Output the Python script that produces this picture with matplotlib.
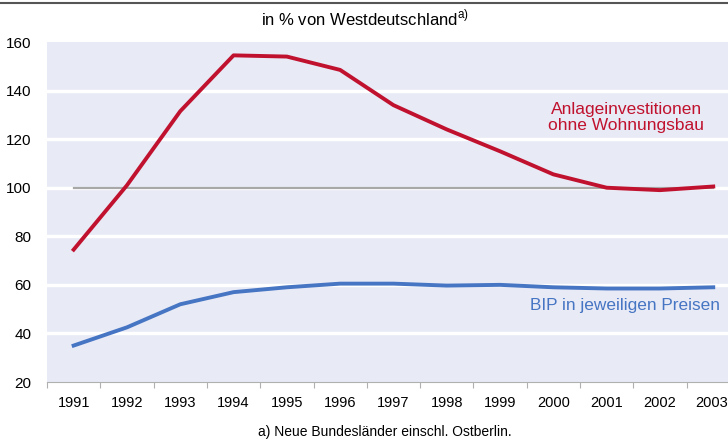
import numpy as np
import matplotlib
matplotlib.use("Agg")
import matplotlib.pyplot as plt
import matplotlib.transforms as mtransforms

plt.rcParams['font.family'] = ['Liberation Sans', 'DejaVu Sans']

years = ['1991', '1992', '1993', '1994', '1995', '1996', '1997',
         '1998', '1999', '2000', '2001', '2002', '2003']
invest = [74.5, 101, 131.5, 154.5, 154, 148.5, 134, 124, 115, 105.5, 100, 99, 100.5]
bip = [35, 42.5, 52, 57, 59, 60.5, 60.5, 59.7, 60, 59, 58.5, 58.5, 59]
ref_line = [100] * len(years)

red = '#C0122E'
blue = '#4675C3'
bg = '#E8EAF6'

W, H = 728, 441
fig = plt.figure(figsize=(W / 100, H / 100), dpi=100)
fig.patch.set_facecolor('white')

# plot area: left edge 47px, 13 categories of ~53.3px, top 42px, bottom 382px
left, top, bottom = 47, 42, 382
width = 13 * 53.3
ax = fig.add_axes([left / W, 1 - bottom / H, width / W, (bottom - top) / H])
ax.set_facecolor(bg)

x = np.arange(len(years))
ax.set_xlim(-0.5, len(years) - 0.5)
ax.set_ylim(20, 160)

for yv in range(40, 160, 20):
    ax.axhline(yv, color='white', lw=2.4, zorder=1)

ax.plot(x, ref_line, color='#A8A8A8', lw=1.6, zorder=2)
ax.plot(x, invest, color=red, lw=2.8, zorder=3, solid_joinstyle='round')
ax.plot(x, bip, color=blue, lw=2.8, zorder=3, solid_joinstyle='round')

for s in ['top', 'right', 'left']:
    ax.spines[s].set_visible(False)
ax.spines['bottom'].set_color('#B0B0B0')
ax.spines['bottom'].set_linewidth(0.8)

ax.set_yticks(range(20, 161, 20))
ax.tick_params(axis='y', length=0, pad=11, labelsize=11)
ax.set_xticks(x)
ax.set_xticklabels(years)
ax.set_xticks(np.arange(-0.5, len(years), 1), minor=True)
ax.tick_params(axis='x', which='major', length=0, pad=10, labelsize=10.5)
ax.tick_params(axis='x', which='minor', length=4, color='#B0B0B0', width=0.8)

# nudge the last year label so it stays inside the picture
last = ax.get_xticklabels()[-1]
last.set_transform(last.get_transform() +
                   mtransforms.ScaledTranslation(-2 / 100, 0, fig.dpi_scale_trans))

ax.text(10.37, 129, 'Anlageinvestitionen\nohne Wohnungsbau', color=red,
        fontsize=12.5, ha='center', va='center', linespacing=1.1)
ax.text(10.35, 51.5, 'BIP in jeweiligen Preisen', color=blue,
        fontsize=12.4, ha='center', va='center')

fig.text(365 / W, 1 - 18 / H, 'in % von Westdeutschland$^{\\mathregular{a)}}$',
         ha='center', va='center', fontsize=12)
fig.text(385 / W, 1 - 432 / H, 'a) Neue Bundesländer einschl. Ostberlin.',
         ha='center', va='center', fontsize=10)

fig.add_artist(plt.Line2D([0, 1], [1 - 2.5 / H, 1 - 2.5 / H], color='#555555', lw=1.5))

fig.savefig('out.png', dpi=100, facecolor='white')
